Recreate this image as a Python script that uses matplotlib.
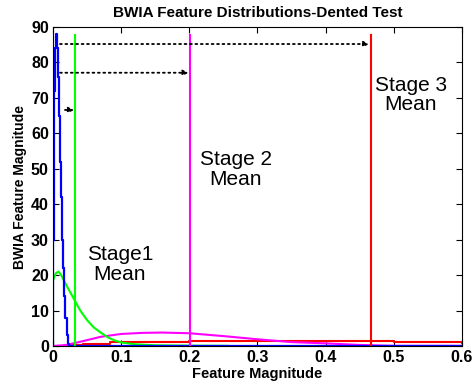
import matplotlib
matplotlib.use('Agg')
import matplotlib.pyplot as plt

plt.rcParams['font.family'] = ['Liberation Sans', 'DejaVu Sans']

# feature distributions (step-like curves)
blue_x = [0, 0.0005, 0.0015, 0.003, 0.005, 0.0065, 0.008, 0.009, 0.010, 0.011, 0.0125, 0.014, 0.016, 0.018, 0.020, 0.022, 0.024, 0.6]
blue_y = [0, 30, 72, 84, 88, 84, 76, 65, 52, 42, 30, 22, 14, 8, 3, 0.5, 0, 0]

green_x = [0, 0, 0.004, 0.008, 0.012, 0.02, 0.03, 0.04, 0.05, 0.06, 0.07, 0.08, 0.09, 0.1, 0.12, 0.15, 0.2, 0.258, 0.258]
green_y = [0, 18.5, 20.5, 21, 20, 17, 13.5, 10, 7.3, 5.2, 3.8, 2.5, 1.6, 1.0, 0.5, 0.2, 0.1, 0.05, 0]

magenta_x = [0, 0.02, 0.04, 0.07, 0.1, 0.13, 0.16, 0.2, 0.25, 0.3, 0.35, 0.4, 0.45, 0.5, 0.55, 0.6]
magenta_y = [0, 0.3, 1.2, 2.6, 3.4, 3.7, 3.8, 3.6, 2.8, 1.9, 1.1, 0.75, 0.3, 0.05, 0.05, 0.05]

red_x = [0, 0.02, 0.044, 0.083, 0.127, 0.18, 0.2, 0.3, 0.4, 0.48, 0.5, 0.598, 0.6]
red_y = [0, 0.2, 0.5, 1.0, 1.2, 1.2, 1.5, 1.5, 1.5, 1.5, 1.2, 1.2, 0.8]

# stage means
mean_x = [0.032, 0.201, 0.466]
mean_top = 87.8
mean_colors = ['#00ff00', '#ff00ff', '#ff0000']

# arrows: (start x, end x, y)
arrow_start = [0.0176, 0.0103, 0.0103]
arrow_end = [0.031, 0.199, 0.464]
arrow_y = [66.6, 77.1, 85.2]

labels = ['Stage1\nMean', 'Stage 2\nMean', 'Stage 3\nMean']
label_x = [0.098, 0.268, 0.525]
label_y = [22.9, 49.7, 70.8]

fig = plt.figure(figsize=(4.72, 3.87), dpi=100)
ax = fig.add_axes([0.1123, 0.1059, 0.8665, 0.8243])

ax.plot(red_x, red_y, color='#ff0000', lw=1.5, drawstyle='steps-post')
ax.plot(magenta_x, magenta_y, color='#ff00ff', lw=1.5)
ax.plot(green_x, green_y, color='#00ff00', lw=1.5)
ax.plot(blue_x, blue_y, color='#0000ff', lw=1.6, drawstyle='steps-post')

for mx, c in zip(mean_x, mean_colors):
    ax.plot([mx, mx], [0, mean_top], color=c, lw=1.5)

for x0, x1, y in zip(arrow_start, arrow_end, arrow_y):
    ax.annotate('', xy=(x1, y), xytext=(x0, y),
                arrowprops=dict(arrowstyle='-|>', linestyle=(0, (1, 2)), color='black',
                                lw=1.3, mutation_scale=8, shrinkA=0, shrinkB=0))

for t, x, y in zip(labels, label_x, label_y):
    ax.text(x, y, t, ha='center', va='center', fontsize=15, linespacing=1.05)

ax.set_xlim(0, 0.6)
ax.set_ylim(0, 90)
ax.set_xticks([0, 0.1, 0.2, 0.3, 0.4, 0.5, 0.6])
ax.set_xticklabels(['0', '0.1', '0.2', '0.3', '0.4', '0.5', '0.6'])
ax.set_yticks(range(0, 91, 10))
ax.tick_params(direction='in', top=True, right=True, labelsize=11.5, length=4, pad=3)
for lab in ax.get_xticklabels() + ax.get_yticklabels():
    lab.set_fontweight('bold')

ax.set_xlabel('Feature Magnitude', fontsize=10.5, fontweight='bold', labelpad=1)
ax.set_ylabel('BWIA Feature Magnitude', fontsize=10, fontweight='bold', labelpad=3)
ax.set_title('BWIA Feature Distributions-Dented Test', fontsize=11, fontweight='bold', pad=7)

fig.savefig('out.png', dpi=100)
